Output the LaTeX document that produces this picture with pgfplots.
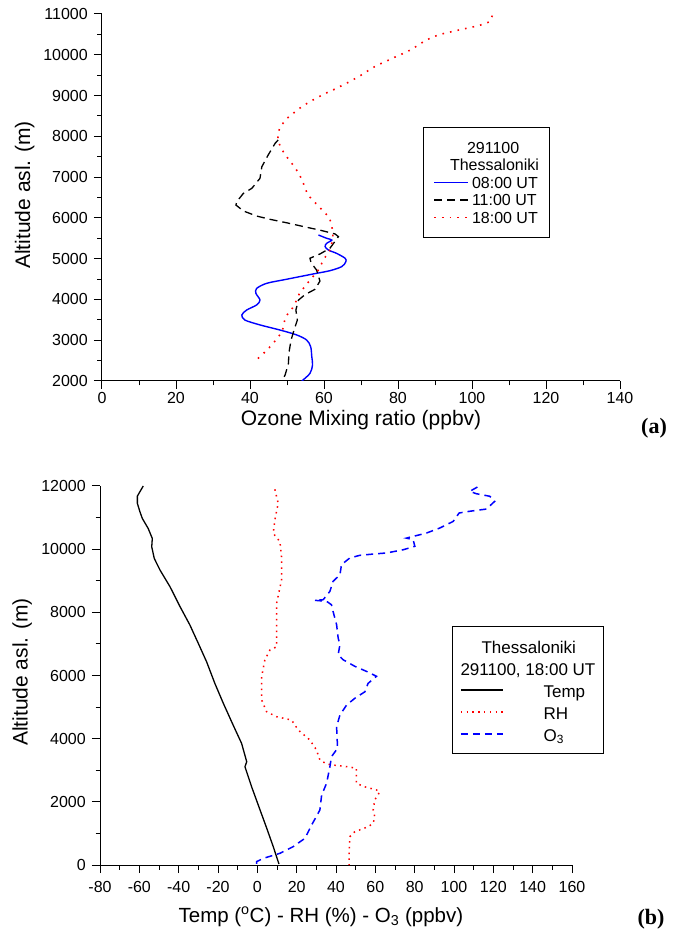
\documentclass[border=0pt]{standalone}
\usepackage{fontspec}
\setmainfont{Liberation Sans}
\newfontfamily\serifb{Liberation Serif}
\usepackage{pgfplots}
\pgfplotsset{compat=1.18}

\pgfplotsset{
  profile/.style={
    scale only axis,
    axis lines=left,
    axis line style={-, line width=1pt},
    tick align=outside,
    tick pos=left,
    major tick length=8pt,
    minor tick length=4.5pt,
    every tick/.style={black, line width=1pt},
    minor x tick num=1,
    minor y tick num=1,
    enlargelimits=false,
    scaled ticks=false,
    /pgf/number format/assume math mode=true,
    /pgf/number format/1000 sep={},
    tick label style={font=\fontsize{16}{16}\selectfont, inner sep=0pt},
    label style={font=\fontsize{21}{21}\selectfont},
    legend cell align=left,
  }
}

\begin{document}
\begin{tikzpicture}[x=1pt,y=1pt]
\useasboundingbox (0,0) rectangle (678,932);

% (a) ozone profiles
\begin{axis}[
    profile,
    at={(102pt,551pt)}, anchor=south west,
    width=518pt, height=367pt,
    xmin=0, xmax=140, ymin=2000, ymax=11000,
    xtick={0,20,...,140},
    ytick={2000,3000,...,11000},
    xticklabel style={anchor=north, yshift=-3pt},
    yticklabel style={anchor=east, xshift=-6pt},
    xlabel={Ozone Mixing ratio (ppbv)},
    ylabel={Altitude asl. (m)},
    xlabel style={at={(axis description cs:0.5,-0.106)}, anchor=center},
    ylabel style={at={(axis description cs:-0.149,0.507)}, anchor=center},
    legend image code/.code={\draw[#1] (0pt,0pt) -- (34pt,0pt);},
    legend style={at={(axis description cs:0.6197,0.6921)}, anchor=north west,
        draw=black, line width=0.8pt, inner xsep=10pt, inner ysep=11.5pt,
        font=\fontsize{16}{16}\selectfont, row sep=0pt,
        nodes={inner sep=0pt, text height=14.45pt, text depth=3.05pt},
        /tikz/every odd column/.append style={column sep=3pt}},
]
\addlegendimage{empty legend}
\addlegendentry{\hspace*{-5pt}291100}
\addlegendimage{empty legend}
\addlegendentry{\hspace*{-22pt}Thessaloniki}

\addplot[blue, line width=1.4pt, smooth, tension=0.5] coordinates {
(58.5,5580) (60.7,5500) (62.1,5455) (60.7,5375) (60.3,5295) (61.2,5210)
(63.4,5130) (65.7,5010) (65.9,4925) (64.8,4805) (61.6,4705) (57.1,4625)
(49.9,4495) (44.5,4395) (41.8,4270) (41.6,4150) (42.7,3985) (41.8,3865)
(39.1,3740) (37.8,3620) (38.6,3495) (42.7,3375) (48.1,3250) (52.6,3130)
(55.3,3005) (56.4,2840) (56.7,2595) (56.9,2390) (56.2,2185) (54.0,2000)
};
\addlegendentry{08:00 UT}

\addplot[black, line width=1.3pt, dash pattern=on 8pt off 5pt] coordinates {
(47.6,7910) (46.8,7830) (44.9,7540) (43.2,7255) (42.7,6970) (40.5,6725)
(38.2,6600) (36.4,6395) (36.2,6315) (38.2,6170) (41.8,6045) (45.4,5965)
(49.9,5880) (55.3,5770) (58.9,5700) (63.0,5605) (63.9,5540) (61.6,5255)
(58.9,5115) (56.2,5010) (56.5,4900) (58.0,4720) (58.9,4450) (57.6,4250)
(54.9,4120) (53.1,3985) (52.4,3740) (52.8,3495) (51.9,3250) (51.1,3005)
(50.5,2680) (50.4,2435) (49.5,2150) (48.7,2005)
};
\addlegendentry{11:00 UT}

\addplot[red, line width=1.6pt, dash pattern=on 1.6pt off 6.1pt] coordinates {
(105.5,10960) (104.8,10810) (101.7,10710) (99.6,10670) (95.6,10590) (91.4,10500)
(89.4,10435) (87.3,10345) (85.2,10220) (83.2,10110) (81.1,10020) (79.0,9935)
(76.9,9845) (74.9,9765) (72.8,9665) (70.7,9535) (68.6,9425) (66.6,9325)
(64.5,9230) (62.4,9135) (60.4,9055) (58.3,8955) (56.2,8850) (54.1,8735)
(52.1,8595) (50.0,8440) (48.3,8250) (47.5,8070) (47.6,7885) (48.5,7690)
(49.9,7500) (51.5,7313) (52.9,7132) (54.0,6946) (55.6,6568) (57.6,6372)
(59.5,6193) (61.5,6004) (62.5,5636) (62.2,5450) (61.9,5254) (60.5,5065)
(59.4,4886) (58.3,4697) (54.9,4330) (53.3,4133) (52.4,3945) (51.3,3758)
(49.6,3577) (48.7,3209) (47.0,3005) (45.2,2817) (43.2,2637) (41.2,2473)
};
\addlegendentry{18:00 UT}
\end{axis}

% (b) temperature, RH and ozone
\begin{axis}[
    profile,
    at={(100pt,67pt)}, anchor=south west,
    width=472pt, height=379pt,
    xmin=-80, xmax=160, ymin=0, ymax=12000,
    xtick={-80,-60,...,160},
    ytick={0,2000,...,12000},
    xticklabel style={anchor=north, yshift=-8pt},
    yticklabel style={anchor=east, xshift=-6pt},
    xlabel={Temp (\textsuperscript{o}C) - RH (\%) - O\textsubscript{3} (ppbv)},
    ylabel={Altitude asl. (m)},
    xlabel style={at={(axis description cs:0.468,-0.137)}, anchor=center, font=\fontsize{20.5}{20.5}\selectfont},
    ylabel style={at={(axis description cs:-0.165,0.509)}, anchor=center},
    legend image code/.code={\draw[#1] (0pt,0pt) -- (42pt,0pt);},
    legend style={at={(axis description cs:0.745,0.6306)}, anchor=north west,
        draw=black, line width=0.8pt, inner xsep=8pt, inner ysep=8.5pt,
        font=\fontsize{17}{17}\selectfont, row sep=0pt,
        nodes={inner sep=0pt, text height=18.3pt, text depth=3.7pt},
        /tikz/every odd column/.append style={column sep=40pt}},
]
\addlegendimage{empty legend}
\addlegendentry{\hspace*{-62pt}Thessaloniki}
\addlegendimage{empty legend}
\addlegendentry{\hspace*{-83pt}291100, 18:00 UT}

\addplot[black, line width=1.3pt] coordinates {
(-58.0,12000) (-59.7,11820) (-61.0,11680) (-61.0,11450) (-59.7,11185)
(-58.5,10975) (-55.5,10655) (-53.4,10340) (-53.7,10075) (-52.4,9705)
(-49.5,9340) (-44.4,8810) (-39.3,8180) (-34.3,7600) (-30.0,7015)
(-25.8,6435) (-21.6,5750) (-17.3,5120) (-12.3,4430) (-8.0,3850)
(-5.4,3270) (-6.3,3110) (-2.9,2475) (1.4,1740) (4.8,1160) (8.1,580) (11.0,30)
};
\addlegendentry{Temp}

\addplot[red, line width=1.5pt, dash pattern=on 1.5pt off 4.3pt] coordinates {
(8.9,11895) (10.6,11450) (8.9,10920) (8.1,10500) (11.5,10235) (12.3,9760)
(12.3,9025) (9.8,8285) (9.8,7545) (9.8,6910) (6.4,6805) (3.8,6490)
(2.2,5960) (2.2,5225) (4.7,4855) (9.8,4695) (17.4,4590) (20.8,4275)
(26.7,3960) (30.1,3640) (31.8,3325) (35.2,3200) (38.5,3165) (46.2,3110)
(50.4,3060) (50.4,2585) (54.7,2475) (60.6,2375) (62.3,2320) (59.7,2060)
(58.9,1740) (59.7,1530) (58.9,1320) (56.3,1210) (49.6,1055) (47.0,895)
(46.7,370) (46.7,0)
};
\addlegendentry{RH}

\addplot[blue, line width=1.5pt, dash pattern=on 7pt off 5pt] coordinates {
(111.9,11967) (108.0,11830) (111.4,11755) (118.2,11675) (120.7,11515)
(116.5,11270) (108.0,11200) (102.6,11145) (99.6,10880) (92.8,10670)
(86.0,10510) (75.8,10350) (79.2,10300) (80.1,10090) (74.1,9980)
(65.7,9880) (58.9,9845) (52.1,9805) (47.0,9720) (42.8,9510) (42.0,9190)
(38.5,8980) (36.9,8665) (33.5,8400) (29.2,8380) (35.2,8350) (37.7,8240)
(38.5,8030) (40.3,7610) (41.1,7185) (42.0,6975) (41.1,6660) (43.6,6500)
(49.6,6290) (55.5,6130) (60.6,5975) (56.3,5750) (54.7,5485) (49.6,5280)
(45.4,5065) (42.0,4750) (40.3,4380) (40.8,3695) (37.7,3430) (36.9,3110)
(35.2,2585) (32.7,2215) (31.8,1740) (27.6,1265) (24.2,845) (18.2,580)
(11.5,370) (3.0,210) (-0.4,105) (-0.4,0)
};
\addlegendentry{O\textsubscript{3}}
\end{axis}

\node[font=\serifb\bfseries\fontsize{22}{22}\selectfont] at (654,504) {(a)};
\node[font=\serifb\bfseries\fontsize{22}{22}\selectfont] at (651,13) {(b)};
\end{tikzpicture}
\end{document}
